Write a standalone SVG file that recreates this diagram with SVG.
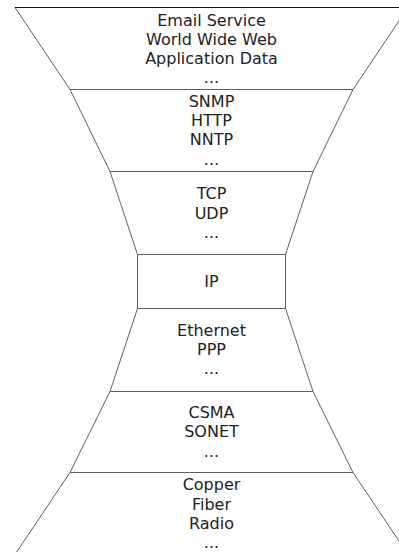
<svg xmlns="http://www.w3.org/2000/svg" width="399" height="552" viewBox="0 0 399 552">
<style>
.layer{fill:#fff;stroke:#606060;stroke-width:1}
.lbl{font-family:"DejaVu Sans",sans-serif;font-size:16px;fill:#222;text-anchor:middle}
</style>
<rect width="399" height="552" fill="#fff"/>
<g id="application">
<polygon class="layer" points="15,7.5 408,7.5 353,89.5 70,89.5"/>
<line x1="15" y1="7.5" x2="399" y2="7.5" stroke="#111" stroke-width="1"/>
<text class="lbl" x="211.5"><tspan x="211.5" y="25.5">Email Service</tspan><tspan x="211.5" y="44.7">World Wide Web</tspan><tspan x="211.5" y="63.9">Application Data</tspan><tspan x="211.5" y="83.1">...</tspan></text>
</g>
<g id="app-protocols">
<polygon class="layer" points="70,89.5 353,89.5 313,171.5 110,171.5"/>
<text class="lbl"><tspan x="211.5" y="107">SNMP</tspan><tspan x="211.5" y="126.2">HTTP</tspan><tspan x="211.5" y="145.4">NNTP</tspan><tspan x="211.5" y="164.6">...</tspan></text>
</g>
<g id="transport">
<polygon class="layer" points="110,171.5 313,171.5 285.5,254.5 137.5,254.5"/>
<text class="lbl"><tspan x="211.5" y="199.3">TCP</tspan><tspan x="211.5" y="218.5">UDP</tspan><tspan x="211.5" y="237.7">...</tspan></text>
</g>
<g id="ip">
<polygon class="layer" points="137.5,254.5 285.5,254.5 285.5,308.5 137.5,308.5"/>
<text class="lbl" x="211.5" y="287">IP</text>
</g>
<g id="link">
<polygon class="layer" points="137.5,308.5 285.5,308.5 313,391.5 110,391.5"/>
<text class="lbl"><tspan x="211.5" y="336">Ethernet</tspan><tspan x="211.5" y="355.2">PPP</tspan><tspan x="211.5" y="374.4">...</tspan></text>
</g>
<g id="access">
<polygon class="layer" points="110,391.5 313,391.5 353,472.5 70,472.5"/>
<text class="lbl"><tspan x="211.5" y="418.2">CSMA</tspan><tspan x="211.5" y="437.4">SONET</tspan><tspan x="211.5" y="456.6">...</tspan></text>
</g>
<g id="physical">
<polygon class="layer" points="70,472.5 353,472.5 408,554.5 15,554.5"/>
<text class="lbl"><tspan x="211.5" y="490.3">Copper</tspan><tspan x="211.5" y="509.5">Fiber</tspan><tspan x="211.5" y="528.7">Radio</tspan><tspan x="211.5" y="547.9">...</tspan></text>
</g>
</svg>
